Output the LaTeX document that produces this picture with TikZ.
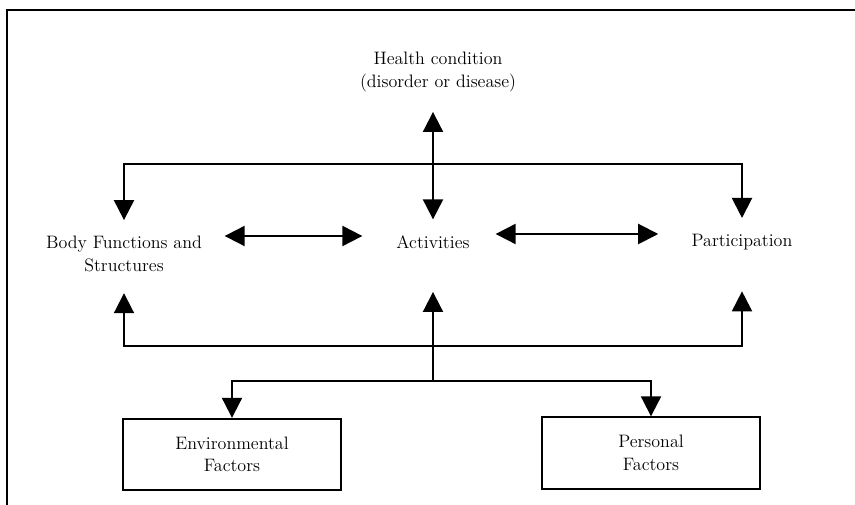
\documentclass[tikz,border=0pt]{standalone}
\usetikzlibrary{arrows.meta}
\begin{document}
\begin{tikzpicture}[x=0.75pt, y=0.75pt, line join=miter, >={Triangle[length=15pt,width=15pt]}, line width=1.5pt,
	font=\fontsize{13.5}{17}\selectfont,
	factor/.style={draw, line width=1.5pt, minimum width=164pt, minimum height=53.5pt, align=center}]
	\useasboundingbox (0,0) rectangle (855,505);
	\draw (7,0) -- (7,495) -- (855,495);
	\node[align=center] (hc) at (438,433) {Health condition\\(disorder or disease)};
	\node[align=center] (bfs) at (124,251) {Body Functions and\\Structures};
	\node (act) at (433,263) {Activities};
	\node (par) at (742,263) {Participation};
	\node[factor] (env) at (232,50.5) {Environmental\\Factors};
	\node[factor] (per) at (651,52) {Personal\\Factors};
	\coordinate (top) at (433,341);
	\coordinate (mid) at (433,159);
	\coordinate (low) at (433,124);
	\draw[<->, shorten <=8pt, shorten >=11pt] (act.north) -- (act.north |- hc.south);
	\draw[->, shorten >=8pt] (top) -| (bfs);
	\draw[->, shorten >=8pt] (top) -| (par);
	\draw[<->, shorten <=13pt, shorten >=21.5pt] ([yshift=13.5pt]bfs.east) -- ([yshift=4.5pt]act.west);
	\draw[<->, shorten <=15.5pt, shorten >=21pt] ([yshift=6pt]act.east) -- ([yshift=6pt]par.west);
	\draw[->, shorten >=12pt] (mid) -| (bfs);
	\draw[->, shorten >=27pt] (mid) -| (par);
	\draw[->, shorten >=28.5pt] (low) -- (act);
	\draw[->] (low) -| (env);
	\draw[->] (low) -| (per);
\end{tikzpicture}
\end{document}
